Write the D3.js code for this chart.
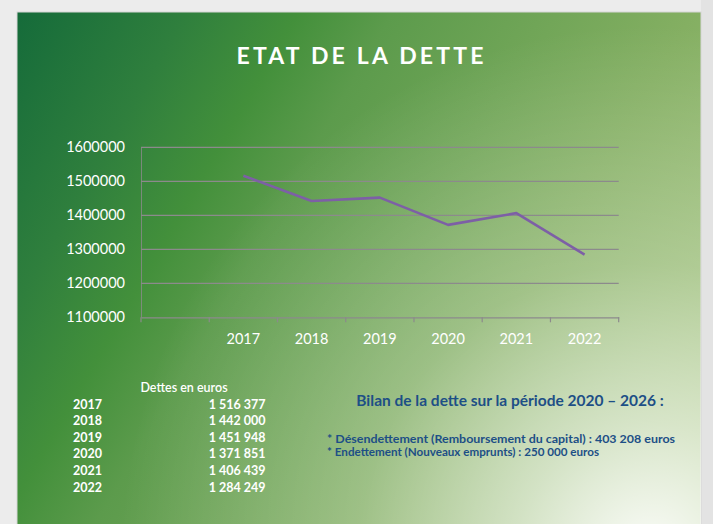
<!DOCTYPE html>
<html>
<head>
<meta charset="utf-8">
<script src="https://cdn.jsdelivr.net/npm/d3@7"></script>
<style>
  html, body { margin: 0; padding: 0; background: #ececec; }
  svg { display: block; }
  text { font-family: Lato, "Open Sans", sans-serif; }
</style>
</head>
<body>
<div id="chart-area"></div>
<script>

// Data
var years = ["2017", "2018", "2019", "2020", "2021", "2022"];
var debt = [1516377, 1442000, 1451948, 1371851, 1406439, 1284249];
var debtLabels = ["1 516 377", "1 442 000", "1 451 948", "1 371 851", "1 406 439", "1 284 249"];
var yTicks = [1100000, 1200000, 1300000, 1400000, 1500000, 1600000];
// the chart has one empty category slot before 2017
var categories = [" "].concat(years);

var title = "ETAT DE LA DETTE";
var tableHeader = "Dettes en euros";
var bilanTitle = "Bilan de la dette sur la période 2020 \u2013 2026 :";
var bilanLines = [
    "* Désendettement (Remboursement du capital) : 403 208 euros",
    "* Endettement (Nouveaux emprunts) : 250 000 euros"
];

var W = 713, H = 524;

var svg = d3.select("#chart-area")
    .append("svg")
        .attr("width", W)
        .attr("height", H);

var defs = svg.append("defs");

// Main diagonal green gradient
var lg = defs.append("linearGradient")
    .attr("id", "bg")
    .attr("gradientUnits", "userSpaceOnUse")
    .attr("x1", 17).attr("y1", 12)
    .attr("x2", 720).attr("y2", 420);
[["0", "#156b3a"], ["0.18", "#2f7f3d"], ["0.3", "#43903b"], ["0.4", "#5c9b4c"], ["0.72", "#84af62"], ["1", "#a2c27c"]]
    .forEach(function(s){
        lg.append("stop").attr("offset", s[0]).attr("stop-color", s[1]);
    });

// Whitish glow in the lower right corner
var rg = defs.append("radialGradient")
    .attr("id", "glow")
    .attr("gradientUnits", "userSpaceOnUse")
    .attr("cx", 650).attr("cy", 555).attr("r", 530);
[["0", 0.95], ["0.25", 0.6], ["0.55", 0.25], ["1", 0]]
    .forEach(function(s){
        rg.append("stop").attr("offset", s[0])
            .attr("stop-color", "#ffffff").attr("stop-opacity", s[1]);
    });

// Panel
svg.append("rect")
    .attr("x", 0).attr("y", 0).attr("width", W).attr("height", H)
    .attr("fill", "#ececec");
svg.append("rect")
    .attr("x", 701).attr("y", 0).attr("width", 12).attr("height", H)
    .attr("fill", "#e3e3e3");
svg.append("rect")
    .attr("x", 17).attr("y", 12).attr("width", 684).attr("height", 530)
    .attr("fill", "url(#bg)")
    .attr("stroke", "#d6d6d6");
svg.append("rect")
    .attr("x", 17).attr("y", 12).attr("width", 684).attr("height", 530)
    .attr("fill", "url(#glow)");

// Title
svg.append("text")
    .attr("x", 360)
    .attr("y", 63.5)
    .attr("text-anchor", "middle")
    .attr("fill", "#ffffff")
    .attr("font-size", "23px")
    .attr("font-weight", 700)
    .attr("textLength", 247)
    .attr("lengthAdjust", "spacing")
    .text(title);

// Scales
var x = d3.scaleBand()
    .domain(categories)
    .range([141, 618.7])
    .padding(0);

var y = d3.scaleLinear()
    .domain([1100000, 1600000])
    .range([317.3, 147.3]);

var gridColor = "#8c8a8c";

// Y gridlines
svg.append("g")
    .attr("class", "grid")
    .selectAll("line")
    .data(yTicks.slice(1))
    .enter().append("line")
        .attr("x1", 141).attr("x2", 618.7)
        .attr("y1", function(d){ return y(d); })
        .attr("y2", function(d){ return y(d); })
        .attr("stroke", gridColor)
        .attr("stroke-width", 1.3);

// Y axis
var yAxisCall = d3.axisLeft(y)
    .tickValues(yTicks)
    .tickSize(0)
    .tickPadding(16)
    .tickFormat(function(d){ return d3.format("d")(d); });
var yAxis = svg.append("g")
    .attr("class", "y axis")
    .attr("transform", "translate(141,0)")
    .call(yAxisCall);
yAxis.select(".domain").attr("stroke", gridColor).attr("stroke-width", 0.8);
yAxis.selectAll("text")
    .attr("fill", "#ffffff")
    .attr("font-size", "14.5px")
    .style("font-family", "Lato, sans-serif");

// X axis, ticks between categories
var xAxisCall = d3.axisBottom(x)
    .tickSize(0)
    .tickPadding(16);
var xAxis = svg.append("g")
    .attr("class", "x axis")
    .attr("transform", "translate(0,317.3)")
    .call(xAxisCall);
xAxis.select(".domain").attr("stroke", gridColor).attr("stroke-width", 1.3);
xAxis.selectAll("text")
    .attr("fill", "#ffffff")
    .attr("font-size", "14.5px")
    .style("font-family", "Lato, sans-serif");

var edges = categories.map(function(c){ return x(c); }).concat([x.range()[1]]);
xAxis.selectAll(".edge")
    .data(edges)
    .enter().append("line")
        .attr("class", "edge")
        .attr("x1", function(d){ return d; })
        .attr("x2", function(d){ return d; })
        .attr("y1", 0).attr("y2", 5)
        .attr("stroke", gridColor)
        .attr("stroke-width", 1.2);

// Debt line
var line = d3.line()
    .x(function(d, i){ return x(years[i]) + x.bandwidth() / 2; })
    .y(function(d){ return y(d); });

svg.append("path")
    .datum(debt)
    .attr("d", line)
    .attr("fill", "none")
    .attr("stroke", "#7d5fa6")
    .attr("stroke-width", 2.6)
    .attr("stroke-linejoin", "round");

// Table of values
var table = svg.append("g").attr("fill", "#ffffff");

table.append("text")
    .attr("x", 184)
    .attr("y", 392)
    .attr("text-anchor", "middle")
    .attr("font-size", "12.5px")
    .attr("font-weight", 600)
    .text(tableHeader);

years.forEach(function(yr, i){
    var rowY = 408.5 + i * 16.6;
    table.append("text")
        .attr("x", 73)
        .attr("y", rowY)
        .attr("font-size", "12.5px")
        .attr("font-weight", 700)
        .text(yr);
    table.append("text")
        .attr("x", 265.5)
        .attr("y", rowY)
        .attr("text-anchor", "end")
        .attr("font-size", "12.5px")
        .attr("font-weight", 700)
        .text(debtLabels[i]);
});

// Bilan block
var blue = "#1d4f86";
svg.append("text")
    .attr("x", 510)
    .attr("y", 406)
    .attr("text-anchor", "middle")
    .attr("fill", blue)
    .attr("font-size", "15.5px")
    .attr("font-weight", 700)
    .text(bilanTitle);

var bilanWidths = [348, 272];
bilanLines.forEach(function(t, i){
    svg.append("text")
        .attr("x", 327)
        .attr("y", 443 + i * 13.4)
        .attr("fill", blue)
        .attr("font-size", "11.1px")
        .attr("font-weight", 700)
        .attr("textLength", bilanWidths[i])
        .attr("lengthAdjust", "spacingAndGlyphs")
        .text(t);
});

</script>
</body>
</html>
